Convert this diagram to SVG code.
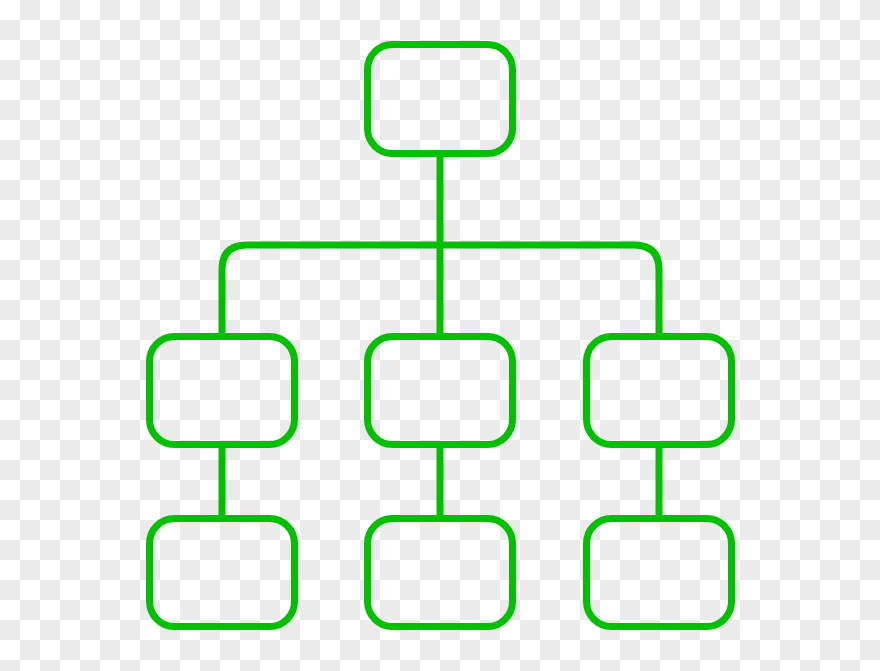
<svg xmlns="http://www.w3.org/2000/svg" width="880" height="671" viewBox="0 0 880 671">
<defs>
<pattern id="checker" x="0" y="0" width="40" height="40" patternUnits="userSpaceOnUse">
<rect width="40" height="40" fill="#ffffff"/>
<rect x="20" y="0" width="20" height="20" fill="#ebebeb"/>
<rect x="0" y="20" width="20" height="20" fill="#ebebeb"/>
</pattern>
<style>
.box{fill:none;stroke:#00c000;stroke-width:7}
.conn{fill:none;stroke:#00c000;stroke-width:7}
</style>
</defs>
<rect width="880" height="671" fill="url(#checker)"/>
<g id="connectors">
<path class="conn" d="M440 157 V333"/>
<path class="conn" d="M222 333 V270 Q222 245 247 245 H634 Q659 245 659 270 V333"/>
<path class="conn" d="M222 448 V515"/>
<path class="conn" d="M440 448 V515"/>
<path class="conn" d="M659 448 V515"/>
</g>
<g id="node-top"><rect class="box" x="367.5" y="44.5" width="145" height="109" rx="25"/></g>
<g id="node-mid-left"><rect class="box" x="149.5" y="336.5" width="145" height="108" rx="25"/></g>
<g id="node-mid-center"><rect class="box" x="367.5" y="336.5" width="145" height="108" rx="25"/></g>
<g id="node-mid-right"><rect class="box" x="586.5" y="336.5" width="145" height="108" rx="25"/></g>
<g id="node-bot-left"><rect class="box" x="149.5" y="518.5" width="145" height="108" rx="25"/></g>
<g id="node-bot-center"><rect class="box" x="367.5" y="518.5" width="145" height="108" rx="25"/></g>
<g id="node-bot-right"><rect class="box" x="586.5" y="518.5" width="145" height="108" rx="25"/></g>
</svg>
